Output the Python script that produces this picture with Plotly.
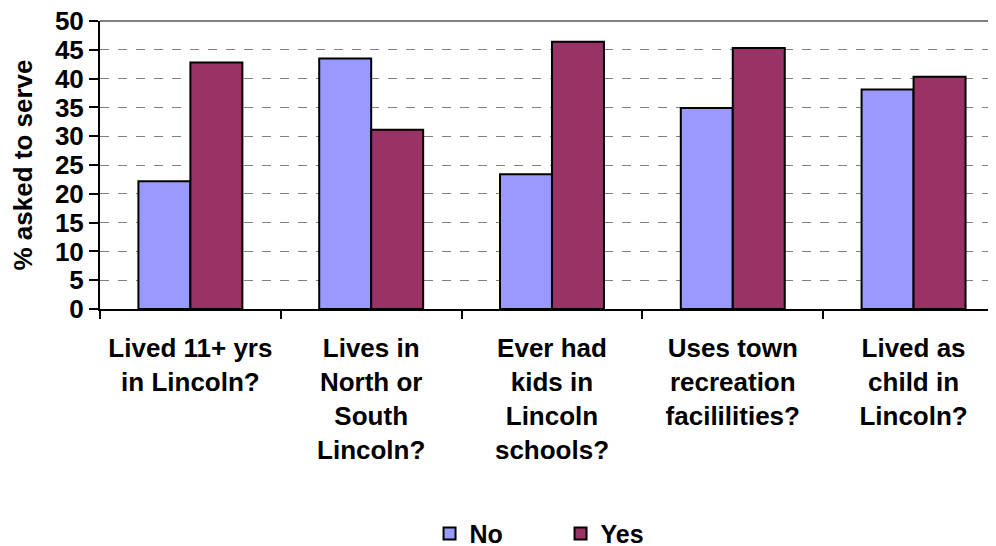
import plotly.graph_objects as go

categories = [
    "Lived 11+ yrs<br>in Lincoln?",
    "Lives in<br>North or<br>South<br>Lincoln?",
    "Ever had<br>kids in<br>Lincoln<br>schools?",
    "Uses town<br>recreation<br>facililities?",
    "Lived as<br>child in<br>Lincoln?",
]
no_values = [22.2, 43.5, 23.4, 34.9, 38.1]
yes_values = [42.8, 31.1, 46.4, 45.3, 40.3]
y_ticks = [0, 5, 10, 15, 20, 25, 30, 35, 40, 45, 50]

FONT = "Liberation Sans, Arial, sans-serif"

fig = go.Figure()
fig.add_trace(go.Bar(name="No", x=categories, y=no_values,
                     marker=dict(color="#9999FF", line=dict(color="black", width=2))))
fig.add_trace(go.Bar(name="Yes", x=categories, y=yes_values,
                     marker=dict(color="#993366", line=dict(color="black", width=2))))

fig.update_layout(
    width=988, height=546,
    margin=dict(l=92, r=0, t=13, b=245, autoexpand=False),
    paper_bgcolor="white", plot_bgcolor="white",
    barmode="group", bargap=0.425, bargroupgap=0,
    font=dict(family=FONT, color="black", size=24, weight="bold"),
    showlegend=True,
    legend=dict(orientation="h", x=0.514, xanchor="center", y=-0.78, yanchor="middle",
                font=dict(size=25, family=FONT, weight="bold"),
                entrywidth=86, itemclick=False),
)
fig.update_xaxes(
    range=[-0.5, 4.456], automargin=False,
    showline=True, linecolor="black", linewidth=2,
    ticks="outside", tickson="boundaries", ticklen=8, tickcolor="black", tickwidth=2,
    tickfont=dict(size=26, family=FONT, weight="bold"),
    ticklabelstandoff=15,
    showgrid=False, tickangle=0,
)
fig.update_yaxes(
    range=[0, 50], tickvals=y_ticks, automargin=False,
    showline=True, linecolor="black", linewidth=2,
    ticks="outside", ticklen=9, tickcolor="black", tickwidth=2,
    tickfont=dict(size=26, family=FONT, weight="bold"),
    ticklabeloverflow="allow",
    showgrid=True, gridcolor="#808080", griddash="dash", gridwidth=1,
    zeroline=False,
    title=dict(text="% asked to serve", font=dict(size=26, family=FONT, weight="bold"), standoff=16),
)
# plot-area top border (gray, solid)
fig.add_shape(type="line", xref="paper", yref="paper", x0=0, x1=1, y0=1, y1=1,
              line=dict(color="#808080", width=2))

fig.write_html("out.html")
